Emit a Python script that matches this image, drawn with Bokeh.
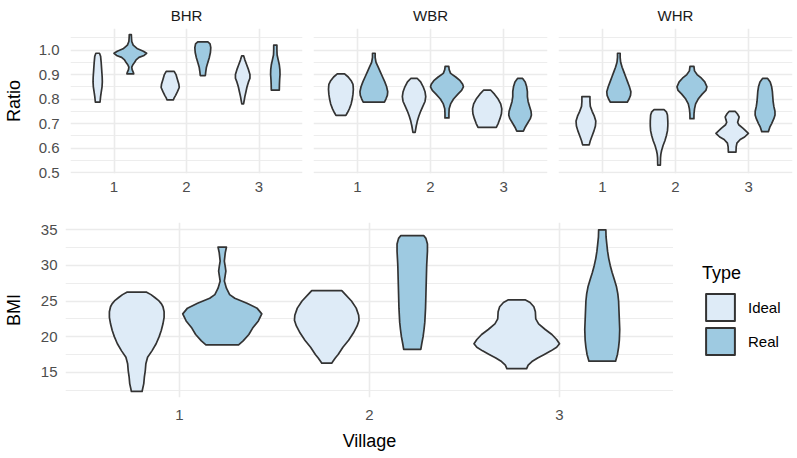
from bokeh.plotting import figure
from bokeh.layouts import column, row
from bokeh.models import (Range1d, FixedTicker, PrintfTickFormatter, Legend,
                          LegendItem, ColumnDataSource)
from bokeh.embed import file_html
from bokeh.resources import INLINE

FONT = "Liberation Sans"
VILLAGES = [1, 2, 3]
TYPES = ["Ideal", "Real"]
PANELS = ["BHR", "WBR", "WHR"]
FILL = {"Ideal": "#DEEBF7", "Real": "#9ECAE1"}
RATIO_TICKS = [0.5, 0.6, 0.7, 0.8, 0.9, 1.0]
RATIO_MINOR = [0.55, 0.65, 0.75, 0.85, 0.95, 1.05]
BMI_TICKS = [15, 20, 25, 30, 35]
BMI_MINOR = [12.5, 17.5, 22.5, 27.5, 32.5]

# violin outlines: (value, half-width in village units)
BHR_IDEAL_1 = [(0.987, 0.025), (0.975, 0.04), (0.95, 0.048), (0.92, 0.055), (0.89, 0.062),
               (0.87, 0.064), (0.85, 0.06), (0.83, 0.05), (0.81, 0.04), (0.787, 0.032)]
BHR_REAL_1 = [(1.063, 0.014), (1.05, 0.016), (1.035, 0.02), (1.02, 0.04), (1.005, 0.10),
              (0.995, 0.18), (0.987, 0.225), (0.978, 0.19), (0.97, 0.12), (0.96, 0.08),
              (0.95, 0.06), (0.94, 0.035), (0.93, 0.02), (0.92, 0.025), (0.91, 0.04), (0.903, 0.047)]
BHR_IDEAL_2 = [(0.913, 0.055), (0.90, 0.08), (0.88, 0.10), (0.86, 0.12), (0.847, 0.125),
               (0.83, 0.10), (0.815, 0.075), (0.805, 0.055), (0.797, 0.045)]
BHR_REAL_2 = [(1.033, 0.07), (1.025, 0.10), (1.01, 0.11), (0.99, 0.105), (0.97, 0.09),
              (0.95, 0.07), (0.93, 0.05), (0.91, 0.04), (0.896, 0.035)]
BHR_IDEAL_3 = [(0.976, 0.014), (0.96, 0.03), (0.94, 0.055), (0.92, 0.08), (0.90, 0.10),
               (0.885, 0.10), (0.87, 0.08), (0.85, 0.06), (0.83, 0.045), (0.81, 0.03),
               (0.79, 0.018), (0.78, 0.012)]
BHR_REAL_3 = [(1.02, 0.022), (1.00, 0.022), (0.98, 0.025), (0.96, 0.04), (0.94, 0.055),
              (0.92, 0.063), (0.90, 0.065), (0.88, 0.06), (0.86, 0.057), (0.836, 0.055)]

WBR_IDEAL_1 = [(0.903, 0.05), (0.89, 0.10), (0.875, 0.14), (0.86, 0.165), (0.84, 0.17),
               (0.82, 0.165), (0.80, 0.155), (0.78, 0.14), (0.76, 0.115), (0.745, 0.09), (0.733, 0.068)]
WBR_REAL_1 = [(0.987, 0.018), (0.97, 0.018), (0.95, 0.03), (0.93, 0.06), (0.91, 0.09),
              (0.89, 0.12), (0.87, 0.15), (0.85, 0.175), (0.83, 0.19), (0.815, 0.185),
              (0.80, 0.165), (0.787, 0.145)]
WBR_IDEAL_2 = [(0.884, 0.045), (0.87, 0.09), (0.85, 0.125), (0.83, 0.15), (0.81, 0.16),
               (0.79, 0.15), (0.77, 0.12), (0.75, 0.09), (0.73, 0.065), (0.71, 0.045),
               (0.69, 0.03), (0.664, 0.015)]
WBR_REAL_2 = [(0.933, 0.025), (0.92, 0.03), (0.905, 0.05), (0.89, 0.12), (0.875, 0.18),
              (0.86, 0.215), (0.85, 0.225), (0.835, 0.20), (0.82, 0.15), (0.80, 0.09),
              (0.78, 0.05), (0.76, 0.03), (0.74, 0.027), (0.723, 0.027)]
WBR_IDEAL_3 = [(0.836, 0.05), (0.82, 0.10), (0.80, 0.15), (0.78, 0.185), (0.76, 0.20),
               (0.74, 0.195), (0.72, 0.175), (0.70, 0.15), (0.684, 0.125)]
WBR_REAL_3 = [(0.884, 0.035), (0.87, 0.07), (0.85, 0.09), (0.83, 0.10), (0.81, 0.10),
              (0.79, 0.11), (0.77, 0.13), (0.75, 0.15), (0.735, 0.155), (0.72, 0.14),
              (0.70, 0.10), (0.685, 0.07), (0.669, 0.045)]

WHR_IDEAL_1 = [(0.81, 0.055), (0.79, 0.055), (0.77, 0.06), (0.75, 0.085), (0.73, 0.115),
               (0.71, 0.135), (0.69, 0.13), (0.67, 0.11), (0.65, 0.085), (0.63, 0.06), (0.613, 0.045)]
WHR_REAL_1 = [(0.987, 0.018), (0.97, 0.018), (0.95, 0.025), (0.93, 0.045), (0.91, 0.07),
              (0.89, 0.095), (0.87, 0.12), (0.85, 0.145), (0.83, 0.165), (0.815, 0.16),
              (0.80, 0.14), (0.787, 0.115)]
WHR_IDEAL_2 = [(0.757, 0.068), (0.748, 0.10), (0.735, 0.115), (0.71, 0.12), (0.69, 0.12),
               (0.67, 0.115), (0.65, 0.10), (0.63, 0.08), (0.61, 0.055), (0.59, 0.035),
               (0.575, 0.025), (0.56, 0.02), (0.53, 0.018)]
WHR_REAL_2 = [(0.933, 0.027), (0.915, 0.035), (0.90, 0.07), (0.885, 0.13), (0.87, 0.175),
              (0.85, 0.205), (0.835, 0.19), (0.82, 0.14), (0.80, 0.085), (0.78, 0.05),
              (0.76, 0.035), (0.74, 0.028), (0.72, 0.027)]
WHR_IDEAL_3 = [(0.75, 0.04), (0.74, 0.07), (0.727, 0.095), (0.715, 0.085), (0.705, 0.075),
               (0.695, 0.09), (0.68, 0.15), (0.66, 0.222), (0.645, 0.17), (0.635, 0.11),
               (0.62, 0.065), (0.605, 0.055), (0.583, 0.052)]
WHR_REAL_3 = [(0.884, 0.035), (0.87, 0.07), (0.85, 0.09), (0.83, 0.10), (0.81, 0.105),
              (0.79, 0.11), (0.77, 0.12), (0.75, 0.135), (0.735, 0.136), (0.72, 0.12),
              (0.70, 0.09), (0.685, 0.065), (0.667, 0.045)]

BMI_IDEAL_1 = [(26.24, 0.052), (25.9, 0.075), (25.5, 0.095), (25.1, 0.114), (24.6, 0.13),
               (24.2, 0.138), (23.5, 0.144), (22.7, 0.144), (21.8, 0.138), (20.86, 0.129),
               (20.0, 0.118), (19.0, 0.102), (18.0, 0.08), (17.1, 0.057), (16.2, 0.048),
               (15.24, 0.045), (14.3, 0.04), (13.4, 0.037), (12.3, 0.028)]
BMI_REAL_1 = [(32.56, 0.022), (31.8, 0.016), (30.6, 0.011), (29.8, 0.016), (29.2, 0.019),
              (28.5, 0.015), (27.8, 0.011), (26.8, 0.022), (25.9, 0.039), (25.4, 0.066),
              (24.7, 0.13), (24.0, 0.183), (23.2, 0.208), (22.2, 0.19), (21.2, 0.16),
              (20.3, 0.14), (19.4, 0.11), (18.85, 0.086)]
BMI_IDEAL_2 = [(26.47, 0.079), (26.0, 0.095), (25.0, 0.13), (24.0, 0.155), (23.0, 0.168),
               (22.3, 0.17), (21.5, 0.16), (20.5, 0.14), (19.5, 0.115), (18.5, 0.085),
               (17.5, 0.06), (17.0, 0.045), (16.5, 0.032), (16.27, 0.026)]
BMI_REAL_2 = [(34.2, 0.06), (33.8, 0.072), (33.0, 0.08), (32.0, 0.08), (31.0, 0.078),
              (30.0, 0.076), (28.0, 0.074), (26.0, 0.072), (24.0, 0.07), (22.0, 0.066),
              (21.0, 0.062), (20.0, 0.057), (19.0, 0.05), (18.2, 0.045)]
BMI_IDEAL_3 = [(25.17, 0.044), (24.8, 0.07), (24.2, 0.09), (23.5, 0.098), (22.5, 0.1),
               (21.8, 0.115), (21.0, 0.15), (20.3, 0.185), (19.6, 0.21), (19.0, 0.225),
               (18.5, 0.21), (18.0, 0.18), (17.5, 0.145), (17.0, 0.11), (16.5, 0.08),
               (16.0, 0.06), (15.5, 0.052)]
BMI_REAL_3 = [(35.0, 0.019), (34.0, 0.02), (33.0, 0.024), (32.0, 0.028), (31.0, 0.034),
              (30.0, 0.042), (29.0, 0.052), (28.0, 0.064), (27.0, 0.075), (26.0, 0.082),
              (25.0, 0.086), (23.0, 0.089), (21.0, 0.092), (19.5, 0.09), (18.5, 0.086),
              (17.5, 0.08), (16.55, 0.07)]

RATIO_VIOLINS = {
    "BHR": [BHR_IDEAL_1, BHR_REAL_1, BHR_IDEAL_2, BHR_REAL_2, BHR_IDEAL_3, BHR_REAL_3],
    "WBR": [WBR_IDEAL_1, WBR_REAL_1, WBR_IDEAL_2, WBR_REAL_2, WBR_IDEAL_3, WBR_REAL_3],
    "WHR": [WHR_IDEAL_1, WHR_REAL_1, WHR_IDEAL_2, WHR_REAL_2, WHR_IDEAL_3, WHR_REAL_3],
}
BMI_VIOLINS = [BMI_IDEAL_1, BMI_REAL_1, BMI_IDEAL_2, BMI_REAL_2, BMI_IDEAL_3, BMI_REAL_3]

DODGE = 0.225
GRID = "#EBEBEB"
OUTLINE = "#333333"


def violin_sources(profiles):
    data = {t: dict(xs=[], ys=[]) for t in TYPES}
    k = 0
    for v in VILLAGES:
        for t in TYPES:
            prof = profiles[k]
            k += 1
            c = v + (-DODGE if t == "Ideal" else DODGE)
            vals = [p[0] for p in prof]
            hws = [p[1] for p in prof]
            data[t]["xs"].append([c + h for h in hws] + [c - h for h in reversed(hws)])
            data[t]["ys"].append(vals + list(reversed(vals)))
    return {t: ColumnDataSource(data[t]) for t in TYPES}


def style_axis(ax, label_standoff, axis_label_standoff):
    ax.axis_line_color = None
    ax.major_tick_line_color = None
    ax.minor_tick_line_color = None
    ax.major_tick_out = 0
    ax.major_tick_in = 0
    ax.minor_tick_out = 0
    ax.minor_tick_in = 0
    ax.major_label_text_font = FONT
    ax.major_label_text_font_size = "15px"
    ax.major_label_text_color = "#4D4D4D"
    ax.major_label_standoff = label_standoff
    ax.axis_label_text_font = FONT
    ax.axis_label_text_font_size = "18px"
    ax.axis_label_text_font_style = "normal"
    ax.axis_label_text_color = "#000000"
    ax.axis_label_standoff = axis_label_standoff


def style_grid(p, yticks, yminor):
    p.xgrid.ticker = FixedTicker(ticks=VILLAGES)
    p.ygrid.ticker = FixedTicker(ticks=yticks, minor_ticks=yminor)
    for g in (p.xgrid, p.ygrid):
        g.grid_line_color = GRID
        g.grid_line_width = 1.6
    p.ygrid.minor_grid_line_color = GRID
    p.ygrid.minor_grid_line_width = 0.9


def draw_violins(p, sources):
    rs = {}
    for t in TYPES:
        rs[t] = p.patches(xs="xs", ys="ys", source=sources[t], fill_color=FILL[t],
                          line_color=OUTLINE, line_width=1.7, line_join="round")
    return rs


top = []
widths = [307, 245, 245]
for i, name in enumerate(PANELS):
    first = i == 0
    p = figure(width=widths[i], height=199, x_range=Range1d(0.4, 3.6),
               y_range=Range1d(0.496, 1.088),
               toolbar_location=None, output_backend="svg",
               y_axis_location="left" if first else None,
               min_border_left=68 if first else 6, min_border_right=5,
               min_border_top=25, min_border_bottom=26, outline_line_color=None)
    p.title.text = name
    p.title.align = "center"
    p.title.text_font = FONT
    p.title.text_font_size = "15px"
    p.title.text_font_style = "normal"
    p.title.text_color = "#1A1A1A"
    p.title.standoff = 9
    p.title.offset = 0
    p.xaxis.ticker = FixedTicker(ticks=VILLAGES)
    style_axis(p.xaxis[0], 8, 0)
    if first:
        p.yaxis.ticker = FixedTicker(ticks=RATIO_TICKS)
        p.yaxis.formatter = PrintfTickFormatter(format="%.1f")
        p.yaxis.axis_label = "Ratio"
        style_axis(p.yaxis[0], 11, 12)
    style_grid(p, RATIO_TICKS, RATIO_MINOR)
    draw_violins(p, violin_sources(RATIO_VIOLINS[name]))
    top.append(p)

pb = figure(width=673, height=259, x_range=Range1d(0.4, 3.6), y_range=Range1d(11.45, 36.03),
            toolbar_location=None, output_backend="svg",
            min_border_left=63, min_border_right=0, min_border_top=23, min_border_bottom=61,
            outline_line_color=None)
pb.xaxis.ticker = FixedTicker(ticks=VILLAGES)
pb.xaxis.axis_label = "Village"
style_axis(pb.xaxis[0], 12, 8)
pb.yaxis.ticker = FixedTicker(ticks=BMI_TICKS)
pb.yaxis.axis_label = "BMI"
style_axis(pb.yaxis[0], 8, 14)
style_grid(pb, BMI_TICKS, BMI_MINOR)
bmi_sources = violin_sources(BMI_VIOLINS)
draw_violins(pb, bmi_sources)

# legend panel: its renderers share the BMI sources, which lie outside this panel's ranges
pl = figure(width=124, height=259, x_range=Range1d(0, 1), y_range=Range1d(-2, -1),
            toolbar_location=None, output_backend="svg", x_axis_location=None,
            y_axis_location=None, min_border_left=0, min_border_top=23,
            min_border_right=0, min_border_bottom=61, outline_line_color=None)
pl.grid.visible = False
leg_r = draw_violins(pl, bmi_sources)
leg = Legend(items=[LegendItem(label=t, renderers=[leg_r[t]]) for t in TYPES],
             location=(29, 39), title="Type",
             title_text_font=FONT, title_text_font_size="18px", title_text_color="#000000",
             title_text_font_style="normal", title_standoff=6,
             label_text_font=FONT, label_text_font_size="15px", label_text_color="#000000",
             glyph_width=36, glyph_height=34, spacing=0, label_standoff=10,
             padding=0, margin=0, border_line_color=None, background_fill_alpha=0)
for r in leg_r.values():
    r.glyph.line_width = 2
pl.add_layout(leg)

layout = column(row(*top), row(pb, pl))
open("out.html", "w").write(file_html(layout, INLINE))
